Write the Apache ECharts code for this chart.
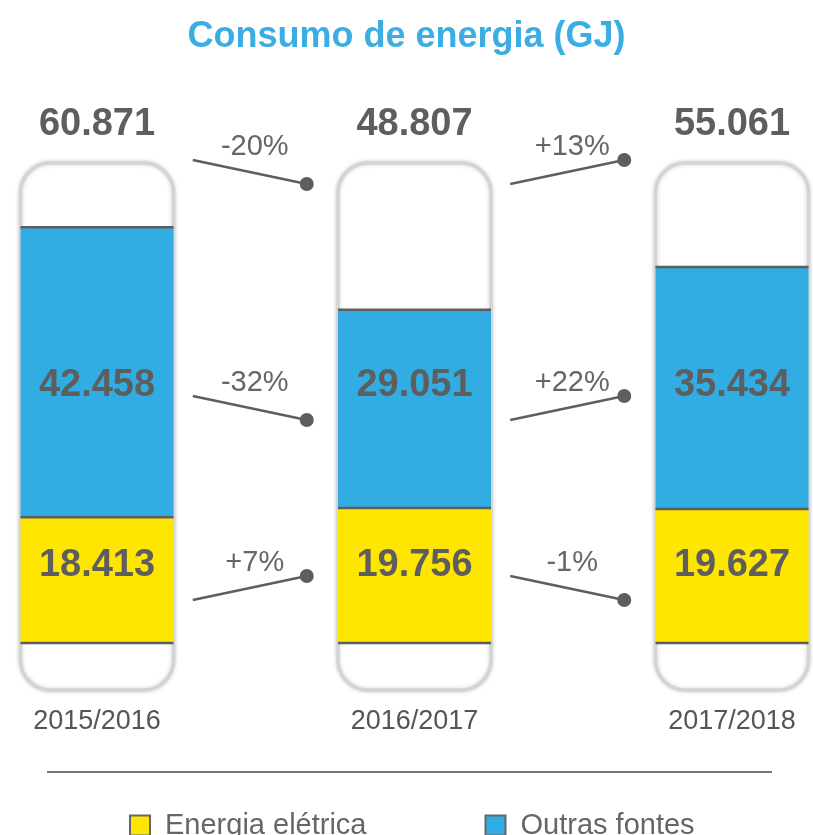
<!DOCTYPE html>
<html>
<head>
<meta charset="utf-8">
<script src="https://cdn.jsdelivr.net/npm/echarts@6/dist/echarts.min.js"></script>
<style>
  html, body { margin: 0; padding: 0; background: #fff; }
  #chart { width: 813px; height: 835px; }
</style>
</head>
<body>
<div id="chart"></div>
<script>
// dados (GJ)
const categorias = ['2015/2016', '2016/2017', '2017/2018']
const eletrica = [18413, 19756, 19627]
const outras = [42458, 29051, 35434]
const totais = [60871, 48807, 55061]
// variacao entre anos
const varTotal = ['-20%', '+13%']
const varOutras = ['-32%', '+22%']
const varEletrica = ['+7%', '-1%']

const AMARELO = '#ffe600'
const AZUL = '#31ade3'
const CINZA = '#5e5e5e'
const FONTE = '"Liberation Sans", Arial, sans-serif'
const LARGURA = 153

function fmt (v) {
  return (v / 1000).toFixed(3)
}

let chart = echarts.init(document.getElementById('chart'))

function desenha (params, api) {
  let i = params.dataIndex
  let top = params.coordSys.y
  let x = api.coord([i, 0])[0]
  let y0 = api.coord([i, 0])[1]
  let yE = api.coord([i, eletrica[i]])[1]
  let yT = api.coord([i, eletrica[i] + outras[i]])[1]
  let kids = []
  // linhas escuras no topo de cada faixa
  ;[y0, yE, yT].forEach(function (y) {
    kids.push({
      type: 'line',
      shape: { x1: x - LARGURA / 2, y1: y, x2: x + LARGURA / 2, y2: y },
      style: { stroke: CINZA, lineWidth: 2.5 }
    })
  })
  // textos
  let linhas = [
    [totais[i], top - 38],
    [outras[i], top + 223],
    [eletrica[i], top + 403]
  ]
  linhas.forEach(function (l) {
    kids.push({
      type: 'text',
      style: {
        text: fmt(l[0]), x: x, y: l[1],
        align: 'center', verticalAlign: 'middle',
        font: 'bold 38px ' + FONTE, fill: CINZA
      }
    })
  })
  // variacoes
  if (i < categorias.length - 1) {
    let xn = api.coord([i + 1, 0])[0]
    let mx = (x + xn) / 2 - 6
    let vars = [
      [varTotal[i], top + 9],
      [varOutras[i], top + 245],
      [varEletrica[i], top + 425]
    ]
    vars.forEach(function (v) {
      let sobe = v[0].charAt(0) === '+'
      let dy = sobe ? -12 : 12
      let x1 = mx - 57
      let x2 = mx + 57
      kids.push({
        type: 'line',
        shape: { x1: x1, y1: v[1] - dy, x2: x2, y2: v[1] + dy },
        style: { stroke: CINZA, lineWidth: 2.5 }
      })
      kids.push({
        type: 'circle',
        shape: { cx: x2, cy: v[1] + dy, r: 7 },
        style: { fill: CINZA }
      })
      kids.push({
        type: 'text',
        style: {
          text: v[0], x: mx + 5, y: v[1] - 25,
          align: 'center', verticalAlign: 'middle',
          font: '29px ' + FONTE, fill: '#666'
        }
      })
    })
  }
  return { type: 'group', children: kids }
}

chart.setOption({
  animation: false,
  textStyle: { fontFamily: FONTE },
  title: {
    text: 'Consumo de energia (GJ)',
    left: 'center',
    top: 14,
    textStyle: { color: '#3aaee2', fontSize: 36, fontWeight: 'bold', fontFamily: FONTE }
  },
  legend: {
    data: ['Energia elétrica', 'Outras fontes'],
    left: 124,
    top: 806,
    icon: 'rect',
    itemWidth: 20,
    itemHeight: 20,
    itemGap: 118,
    textStyle: { fontSize: 29, color: '#666', fontFamily: FONTE, padding: [0, 0, 0, 10] },
    itemStyle: { borderColor: '#666', borderWidth: 2 }
  },
  graphic: [{
    type: 'line',
    shape: { x1: 47, y1: 772, x2: 772, y2: 772 },
    style: { stroke: '#777', lineWidth: 2 }
  }],
  grid: { left: 97, right: 81, top: 163, bottom: 145 },
  xAxis: {
    type: 'category',
    data: categorias,
    boundaryGap: false,
    axisLine: { show: false },
    axisTick: { show: false },
    axisLabel: { fontSize: 27, color: '#555', margin: 18, fontFamily: FONTE }
  },
  yAxis: {
    type: 'value',
    min: -6900,
    max: 70300,
    show: false,
    splitLine: { show: false }
  },
  series: [
    {
      name: 'Energia elétrica',
      type: 'bar',
      stack: 'total',
      barWidth: LARGURA,
      clip: false,
      data: eletrica,
      itemStyle: { color: AMARELO },
      showBackground: true,
      backgroundStyle: {
        color: '#fff',
        borderColor: '#d4d4d4',
        borderWidth: 3.5,
        borderRadius: 30,
        shadowBlur: 4,
        shadowColor: 'rgba(0,0,0,0.18)'
      }
    },
    {
      name: 'Outras fontes',
      type: 'bar',
      stack: 'total',
      barWidth: LARGURA,
      clip: false,
      data: outras,
      itemStyle: { color: AZUL }
    },
    {
      type: 'custom',
      renderItem: desenha,
      data: totais.map(function (t, i) { return [i, t] }),
      z: 10,
      silent: true
    }
  ]
})
</script>
</body>
</html>
